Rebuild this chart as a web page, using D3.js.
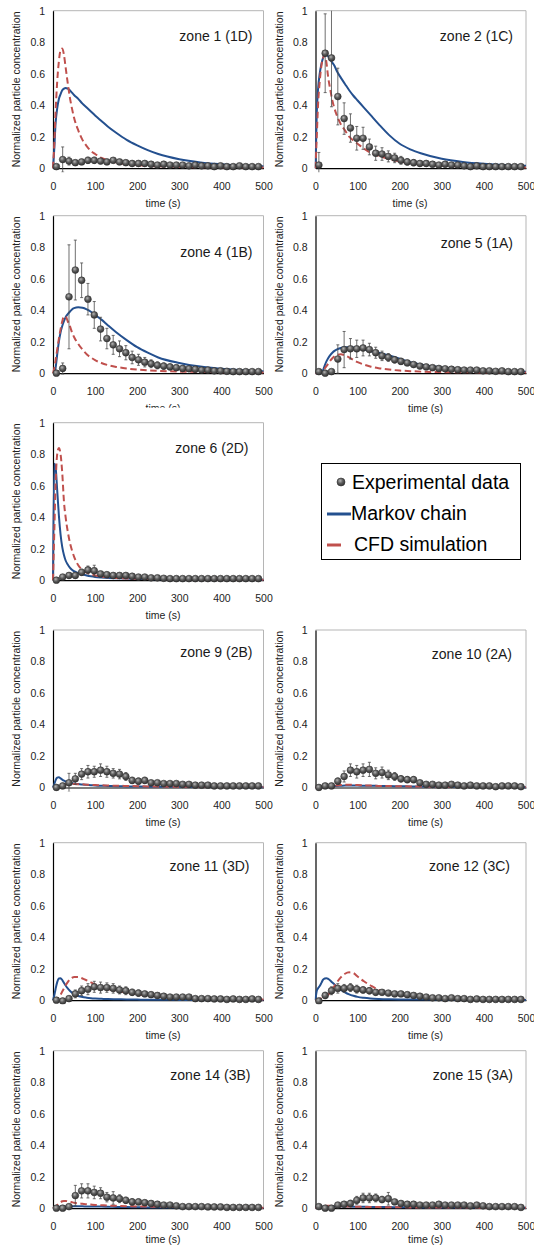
<!DOCTYPE html>
<html>
<head>
<meta charset="utf-8">
<script src="https://cdn.jsdelivr.net/npm/d3@7"></script>
<style>
  html, body { margin: 0; padding: 0; background: #fff; }
  svg { display: block; font-family: "Liberation Sans", Arial, sans-serif; }
</style>
</head>
<body>
<div id="viz"></div>
<script>
// ---- data ----
const zoneNames = ["zone 1 (1D)", "zone 2 (1C)", "zone 4 (1B)", "zone 5 (1A)", "zone 6 (2D)",
  "zone 9 (2B)", "zone 10 (2A)", "zone 11 (3D)", "zone 12 (3C)", "zone 14 (3B)", "zone 15 (3A)"];
const xTicks = [0, 100, 200, 300, 400, 500];
const yTicks = [0, 0.2, 0.4, 0.6, 0.8, 1];
const legendLabels = ["Experimental data", "Markov chain", "CFD simulation"];
const xTitle = "time (s)";
const yTitle = "Normalized particle concentration";

const expTime = [8, 23, 38, 53, 68, 83, 98, 113, 128, 143, 158, 173, 188, 203, 218, 233, 248,
  263, 278, 293, 308, 323, 338, 353, 368, 383, 398, 413, 428, 443, 458, 473, 488];

const expValues = [
  [0.01, 0.055, 0.045, 0.035, 0.04, 0.05, 0.05, 0.045, 0.04, 0.05, 0.04, 0.035, 0.03, 0.03, 0.03, 0.025, 0.02, 0.025, 0.02, 0.02, 0.02, 0.015, 0.02, 0.015, 0.015, 0.01, 0.015, 0.01, 0.01, 0.015, 0.01, 0.01, 0.01],
  [0.02, 0.73, 0.70, 0.455, 0.315, 0.255, 0.19, 0.19, 0.135, 0.095, 0.09, 0.075, 0.065, 0.05, 0.04, 0.035, 0.03, 0.03, 0.025, 0.02, 0.025, 0.02, 0.02, 0.015, 0.01, 0.015, 0.01, 0.01, 0.01, 0.01, 0.01, 0.01, 0.01],
  [0.0, 0.03, 0.485, 0.655, 0.59, 0.47, 0.37, 0.28, 0.22, 0.18, 0.155, 0.13, 0.1, 0.085, 0.07, 0.06, 0.05, 0.045, 0.04, 0.035, 0.03, 0.028, 0.025, 0.02, 0.02, 0.015, 0.015, 0.012, 0.01, 0.01, 0.01, 0.01, 0.01],
  [0.01, 0.0, 0.01, 0.09, 0.15, 0.155, 0.155, 0.16, 0.15, 0.13, 0.11, 0.1, 0.085, 0.075, 0.065, 0.055, 0.045, 0.04, 0.035, 0.03, 0.028, 0.025, 0.022, 0.02, 0.02, 0.02, 0.015, 0.015, 0.012, 0.015, 0.01, 0.01, 0.01],
  [0.0, 0.02, 0.03, 0.03, 0.05, 0.065, 0.06, 0.04, 0.035, 0.03, 0.03, 0.03, 0.025, 0.02, 0.02, 0.015, 0.015, 0.012, 0.01, 0.01, 0.01, 0.01, 0.01, 0.01, 0.01, 0.01, 0.01, 0.01, 0.01, 0.01, 0.01, 0.01, 0.01],
  [0.0, 0.01, 0.03, 0.055, 0.085, 0.1, 0.1, 0.11, 0.1, 0.09, 0.085, 0.07, 0.045, 0.04, 0.045, 0.03, 0.03, 0.025, 0.025, 0.025, 0.02, 0.02, 0.015, 0.015, 0.015, 0.01, 0.01, 0.01, 0.01, 0.01, 0.01, 0.01, 0.01],
  [0.0, 0.01, 0.01, 0.04, 0.07, 0.11, 0.1, 0.11, 0.115, 0.09, 0.095, 0.08, 0.07, 0.055, 0.05, 0.05, 0.03, 0.02, 0.02, 0.015, 0.015, 0.02, 0.015, 0.01, 0.015, 0.01, 0.01, 0.01, 0.005, 0.01, 0.01, 0.01, 0.005],
  [0.0, -0.005, 0.01, 0.04, 0.06, 0.07, 0.085, 0.08, 0.08, 0.075, 0.065, 0.06, 0.05, 0.045, 0.04, 0.035, 0.03, 0.025, 0.02, 0.02, 0.02, 0.02, 0.01, 0.01, 0.01, 0.008, 0.008, 0.005, 0.008, 0.005, 0.005, 0.008, 0.005],
  [-0.005, 0.03, 0.06, 0.075, 0.075, 0.08, 0.07, 0.065, 0.06, 0.05, 0.05, 0.045, 0.04, 0.04, 0.035, 0.03, 0.025, 0.02, 0.015, 0.015, 0.01, 0.015, 0.01, 0.01, 0.005, 0.008, 0.005, 0.005, 0.005, 0.005, 0.005, 0.005, 0.005],
  [0.0, 0.0, 0.01, 0.08, 0.11, 0.11, 0.1, 0.095, 0.07, 0.065, 0.06, 0.05, 0.04, 0.04, 0.035, 0.03, 0.025, 0.02, 0.02, 0.015, 0.01, 0.01, 0.01, 0.01, 0.008, 0.008, 0.008, 0.005, 0.005, 0.005, 0.005, 0.005, 0.005],
  [0.01, 0.0, 0.0, 0.02, 0.025, 0.03, 0.05, 0.065, 0.065, 0.065, 0.055, 0.06, 0.04, 0.03, 0.025, 0.025, 0.02, 0.02, 0.02, 0.025, 0.02, 0.02, 0.02, 0.02, 0.015, 0.02, 0.015, 0.01, 0.01, 0.01, 0.01, 0.01, 0.005]
];

const expErrors = [
  [0.01, 0.08, 0.025, 0.015, 0.015, 0.02, 0.02, 0.015, 0.015, 0.015, 0.015, 0.01, 0.01, 0.01, 0.01, 0.01, 0.01, 0.01, 0.01, 0.008, 0.008, 0.008, 0.008, 0.008, 0.008, 0.008, 0.008, 0.008, 0.008, 0.008, 0.008, 0.008, 0.008],
  [0.08, 0.25, 0.31, 0.18, 0.1, 0.09, 0.075, 0.07, 0.05, 0.045, 0.04, 0.035, 0.03, 0.025, 0.02, 0.02, 0.015, 0.015, 0.012, 0.012, 0.012, 0.01, 0.01, 0.01, 0.01, 0.01, 0.008, 0.008, 0.008, 0.008, 0.008, 0.008, 0.008],
  [0.005, 0.035, 0.33, 0.19, 0.11, 0.1, 0.085, 0.075, 0.065, 0.06, 0.05, 0.045, 0.04, 0.035, 0.03, 0.025, 0.022, 0.02, 0.018, 0.015, 0.015, 0.012, 0.012, 0.01, 0.01, 0.01, 0.008, 0.008, 0.008, 0.008, 0.008, 0.008, 0.008],
  [0.01, 0.01, 0.01, 0.09, 0.115, 0.065, 0.055, 0.05, 0.04, 0.035, 0.03, 0.025, 0.02, 0.02, 0.015, 0.015, 0.012, 0.01, 0.01, 0.01, 0.008, 0.008, 0.008, 0.008, 0.008, 0.008, 0.008, 0.008, 0.008, 0.008, 0.008, 0.008, 0.008],
  [0.005, 0.015, 0.015, 0.015, 0.02, 0.025, 0.035, 0.015, 0.01, 0.01, 0.01, 0.01, 0.01, 0.008, 0.008, 0.008, 0.008, 0.008, 0.008, 0.008, 0.008, 0.008, 0.008, 0.008, 0.008, 0.008, 0.008, 0.008, 0.008, 0.008, 0.008, 0.008, 0.008],
  [0.005, 0.01, 0.06, 0.035, 0.035, 0.04, 0.035, 0.04, 0.035, 0.03, 0.03, 0.025, 0.02, 0.02, 0.02, 0.015, 0.015, 0.012, 0.012, 0.012, 0.01, 0.01, 0.01, 0.01, 0.008, 0.008, 0.008, 0.008, 0.008, 0.008, 0.008, 0.008, 0.008],
  [0.005, 0.01, 0.01, 0.02, 0.035, 0.04, 0.04, 0.04, 0.045, 0.035, 0.035, 0.03, 0.025, 0.02, 0.02, 0.02, 0.015, 0.012, 0.01, 0.01, 0.01, 0.01, 0.008, 0.008, 0.008, 0.008, 0.008, 0.008, 0.008, 0.008, 0.008, 0.008, 0.008],
  [0.005, 0.008, 0.015, 0.025, 0.03, 0.035, 0.035, 0.035, 0.03, 0.03, 0.025, 0.025, 0.02, 0.02, 0.015, 0.015, 0.012, 0.012, 0.01, 0.01, 0.01, 0.01, 0.008, 0.008, 0.008, 0.008, 0.008, 0.008, 0.008, 0.008, 0.008, 0.008, 0.008],
  [0.005, 0.02, 0.025, 0.03, 0.025, 0.025, 0.025, 0.02, 0.02, 0.018, 0.015, 0.015, 0.015, 0.012, 0.012, 0.01, 0.01, 0.01, 0.01, 0.01, 0.008, 0.008, 0.008, 0.008, 0.008, 0.008, 0.008, 0.008, 0.008, 0.008, 0.008, 0.008, 0.008],
  [0.005, 0.005, 0.01, 0.065, 0.045, 0.045, 0.04, 0.035, 0.03, 0.04, 0.025, 0.02, 0.02, 0.018, 0.015, 0.015, 0.012, 0.01, 0.01, 0.01, 0.008, 0.008, 0.008, 0.008, 0.008, 0.008, 0.008, 0.008, 0.008, 0.008, 0.008, 0.008, 0.008],
  [0.01, 0.005, 0.005, 0.01, 0.015, 0.02, 0.025, 0.03, 0.03, 0.025, 0.02, 0.04, 0.015, 0.012, 0.01, 0.01, 0.008, 0.008, 0.008, 0.008, 0.008, 0.008, 0.008, 0.008, 0.008, 0.008, 0.008, 0.008, 0.008, 0.008, 0.008, 0.008, 0.008]
];

const curveTime = [0, 3, 6, 10, 14, 18, 22, 26, 30, 35, 40, 45, 50, 60, 70, 80, 90, 100,
  115, 130, 150, 175, 200, 225, 250, 300, 350, 400, 450, 500];

const markovValues = [
  [0, 0.12, 0.28, 0.38, 0.44, 0.47, 0.495, 0.505, 0.51, 0.505, 0.495, 0.48, 0.465, 0.44, 0.41, 0.385, 0.36, 0.335, 0.3, 0.265, 0.225, 0.18, 0.145, 0.115, 0.09, 0.057, 0.037, 0.025, 0.017, 0.012],
  [0, 0.35, 0.5, 0.6, 0.66, 0.7, 0.72, 0.72, 0.71, 0.69, 0.67, 0.65, 0.62, 0.575, 0.535, 0.495, 0.46, 0.43, 0.385, 0.34, 0.28, 0.21, 0.155, 0.12, 0.095, 0.06, 0.04, 0.028, 0.02, 0.015],
  [0, 0, 0.03, 0.12, 0.2, 0.26, 0.3, 0.33, 0.355, 0.375, 0.39, 0.405, 0.413, 0.418, 0.415, 0.405, 0.39, 0.37, 0.34, 0.305, 0.26, 0.21, 0.165, 0.13, 0.1, 0.065, 0.042, 0.028, 0.018, 0.012],
  [0, 0, 0, 0, 0, 0.02, 0.05, 0.075, 0.095, 0.115, 0.13, 0.142, 0.15, 0.16, 0.164, 0.165, 0.163, 0.16, 0.152, 0.14, 0.13, 0.112, 0.092, 0.07, 0.055, 0.037, 0.027, 0.02, 0.015, 0.01],
  [0, 0.74, 0.72, 0.57, 0.41, 0.29, 0.21, 0.16, 0.125, 0.1, 0.08, 0.066, 0.057, 0.045, 0.036, 0.03, 0.025, 0.021, 0.017, 0.014, 0.012, 0.01, 0.008, 0.007, 0.006, 0.005, 0.004, 0.004, 0.003, 0.003],
  [0, 0.02, 0.045, 0.062, 0.065, 0.058, 0.05, 0.043, 0.038, 0.033, 0.03, 0.027, 0.025, 0.022, 0.019, 0.017, 0.015, 0.013, 0.011, 0.01, 0.008, 0.007, 0.006, 0.005, 0.005, 0.004, 0.003, 0.003, 0.002, 0.002],
  [0, 0, 0, 0.001, 0.002, 0.003, 0.004, 0.005, 0.006, 0.007, 0.008, 0.009, 0.01, 0.011, 0.012, 0.012, 0.012, 0.012, 0.011, 0.011, 0.01, 0.009, 0.008, 0.007, 0.006, 0.005, 0.004, 0.003, 0.003, 0.002],
  [0, 0.03, 0.07, 0.115, 0.138, 0.14, 0.128, 0.11, 0.093, 0.075, 0.06, 0.048, 0.039, 0.027, 0.02, 0.016, 0.013, 0.011, 0.009, 0.007, 0.006, 0.005, 0.004, 0.003, 0.003, 0.002, 0.002, 0.001, 0.001, 0.001],
  [0, 0.06, 0.075, 0.09, 0.11, 0.13, 0.138, 0.14, 0.135, 0.125, 0.112, 0.1, 0.088, 0.067, 0.05, 0.037, 0.028, 0.021, 0.015, 0.011, 0.008, 0.006, 0.005, 0.004, 0.004, 0.003, 0.002, 0.002, 0.002, 0.001],
  [0, 0.002, 0.004, 0.006, 0.008, 0.009, 0.01, 0.011, 0.011, 0.012, 0.012, 0.012, 0.012, 0.012, 0.012, 0.011, 0.011, 0.01, 0.01, 0.009, 0.008, 0.007, 0.006, 0.005, 0.005, 0.004, 0.003, 0.003, 0.002, 0.002],
  [0, 0.002, 0.004, 0.006, 0.008, 0.009, 0.01, 0.01, 0.01, 0.01, 0.01, 0.01, 0.01, 0.01, 0.01, 0.01, 0.009, 0.009, 0.009, 0.008, 0.008, 0.007, 0.006, 0.006, 0.005, 0.005, 0.004, 0.004, 0.003, 0.003]
];

const cfdValues = [
  [0, 0.15, 0.35, 0.55, 0.68, 0.75, 0.76, 0.72, 0.64, 0.54, 0.45, 0.38, 0.32, 0.24, 0.18, 0.14, 0.11, 0.09, 0.065, 0.05, 0.036, 0.026, 0.02, 0.015, 0.012, 0.008, 0.006, 0.005, 0.004, 0.004],
  [0, 0.2, 0.4, 0.55, 0.65, 0.7, 0.72, 0.67, 0.58, 0.5, 0.43, 0.38, 0.34, 0.28, 0.24, 0.2, 0.175, 0.155, 0.125, 0.1, 0.078, 0.058, 0.043, 0.033, 0.026, 0.016, 0.011, 0.008, 0.006, 0.005],
  [0, 0.03, 0.08, 0.15, 0.22, 0.28, 0.33, 0.36, 0.36, 0.33, 0.3, 0.26, 0.23, 0.185, 0.15, 0.12, 0.1, 0.083, 0.065, 0.052, 0.04, 0.03, 0.023, 0.018, 0.015, 0.01, 0.008, 0.006, 0.005, 0.005],
  [0, 0, 0.002, 0.005, 0.01, 0.02, 0.03, 0.045, 0.06, 0.08, 0.095, 0.108, 0.116, 0.12, 0.113, 0.1, 0.085, 0.07, 0.055, 0.043, 0.032, 0.023, 0.017, 0.013, 0.01, 0.007, 0.006, 0.005, 0.005, 0.004],
  [0, 0.3, 0.6, 0.8, 0.84, 0.8, 0.68, 0.5, 0.4, 0.31, 0.24, 0.19, 0.15, 0.095, 0.065, 0.048, 0.037, 0.03, 0.023, 0.018, 0.014, 0.011, 0.009, 0.008, 0.007, 0.005, 0.004, 0.004, 0.003, 0.003],
  [0, 0.002, 0.004, 0.007, 0.01, 0.013, 0.016, 0.018, 0.02, 0.021, 0.022, 0.022, 0.022, 0.021, 0.02, 0.018, 0.017, 0.016, 0.014, 0.013, 0.011, 0.01, 0.008, 0.007, 0.006, 0.005, 0.004, 0.004, 0.003, 0.003],
  [0, 0, 0, 0, 0.001, 0.002, 0.003, 0.004, 0.005, 0.007, 0.009, 0.011, 0.013, 0.016, 0.018, 0.018, 0.017, 0.016, 0.014, 0.012, 0.01, 0.009, 0.008, 0.007, 0.006, 0.005, 0.004, 0.004, 0.003, 0.003],
  [0, 0.002, 0.005, 0.01, 0.02, 0.035, 0.055, 0.075, 0.095, 0.115, 0.132, 0.142, 0.148, 0.147, 0.138, 0.126, 0.113, 0.1, 0.085, 0.072, 0.06, 0.048, 0.038, 0.03, 0.024, 0.016, 0.011, 0.008, 0.005, 0.004],
  [0, 0.002, 0.005, 0.01, 0.013, 0.017, 0.022, 0.028, 0.035, 0.05, 0.07, 0.09, 0.11, 0.145, 0.168, 0.177, 0.172, 0.15, 0.12, 0.095, 0.065, 0.045, 0.033, 0.026, 0.021, 0.014, 0.01, 0.007, 0.005, 0.004],
  [0, 0.005, 0.01, 0.02, 0.03, 0.038, 0.044, 0.046, 0.046, 0.044, 0.041, 0.038, 0.035, 0.031, 0.028, 0.025, 0.023, 0.021, 0.019, 0.017, 0.015, 0.013, 0.011, 0.01, 0.009, 0.007, 0.005, 0.004, 0.004, 0.003],
  [0, 0.003, 0.006, 0.01, 0.013, 0.015, 0.016, 0.016, 0.016, 0.015, 0.014, 0.013, 0.012, 0.011, 0.01, 0.01, 0.009, 0.009, 0.008, 0.008, 0.007, 0.006, 0.006, 0.005, 0.005, 0.004, 0.004, 0.003, 0.003, 0.003]
];

// ---- layout ----
const width = 534;
const height = 1247;
const rowTop = [10.7, 215.7, 422.7, 630, 842.7, 1050.7];
const colLeft = [53, 315.5];
const plotW = 210.5;
const plotH = 157.5;
const slots = [[0, 0], [0, 1], [1, 0], [1, 1], [2, 0], [3, 0], [3, 1], [4, 0], [4, 1], [5, 0], [5, 1]];
const labelDy = [30, 30, 41, 32, 30, 27, 29, 28, 28, 29, 29];
const labelDx = [11, 13, 11, 13, 15, 11, 14, 14, 16, 13, 13];
const timeDx = [110, 94.5, 110, 110, 110, 110, 110, 110, 110, 110, 110];
const coverTop = [false, false, false, false, true, false, false, false, false, false, false];

const blue = '#24508f';
const red = '#c0504d';
const smallFont = 10.5;

const svg = d3.select('#viz')
  .append('svg')
    .attr('width', width)
    .attr('height', height);

const defs = svg.append('defs');
const ball = defs.append('radialGradient')
  .attr('id', 'ball')
  .attr('cx', '40%').attr('cy', '35%').attr('r', '65%');
ball.append('stop').attr('offset', '0%').attr('stop-color', '#b4b4b4');
ball.append('stop').attr('offset', '50%').attr('stop-color', '#5e5e5e');
ball.append('stop').attr('offset', '100%').attr('stop-color', '#333');

const xScale = d3.scaleLinear().domain([0, 500]).range([0, plotW]);
const yScale = d3.scaleLinear().domain([0, 1]).range([plotH, 0]);

const line = d3.line()
  .x(d => xScale(d[0]))
  .y(d => yScale(d[1]))
  .curve(d3.curveMonotoneX);

zoneNames.forEach((name, i) => {
  const [r, c] = slots[i];
  const g = svg.append('g')
    .attr('transform', `translate(${colLeft[c]}, ${rowTop[r]})`);

  // this panel sits over the overflow of the one above it
  if (coverTop[i]) {
    g.append('rect')
      .attr('x', -colLeft[c]).attr('y', -15)
      .attr('width', plotW + colLeft[c] + 1).attr('height', plotH + 60)
      .attr('fill', '#fff');
  }

  defs.append('clipPath').attr('id', 'clip' + i)
    .append('rect')
      .attr('x', -1).attr('y', 0)
      .attr('width', plotW + 3).attr('height', plotH + 4);

  // light frame on top and right
  g.append('path')
    .attr('d', `M0,0H${plotW}V${plotH}`)
    .attr('fill', 'none')
    .attr('stroke', '#b5b5b5')
    .attr('stroke-width', 1);

  const yAxis = g.append('g')
    .call(d3.axisLeft(yScale).tickValues(yTicks).tickSize(0).tickSizeOuter(0).tickPadding(8).tickFormat(d => d));
  const xAxis = g.append('g')
    .attr('transform', `translate(0, ${plotH})`)
    .call(d3.axisBottom(xScale).tickValues(xTicks).tickSize(0).tickSizeOuter(0).tickPadding(14));
  [yAxis, xAxis].forEach(a => {
    a.attr('font-family', null).attr('font-size', smallFont);
    a.select('.domain').attr('stroke', '#000').attr('stroke-width', 1.2);
    a.selectAll('text').attr('fill', '#222');
  });

  // keep the bottom row's title inside the page
  const titleY = Math.min(plotH + 38.5, height - 3.5 - rowTop[r]);
  g.append('text')
    .attr('x', timeDx[i]).attr('y', titleY)
    .attr('text-anchor', 'middle')
    .attr('font-size', smallFont)
    .attr('fill', '#222')
    .text(xTitle);

  g.append('text')
    .attr('transform', `translate(-36.5, ${plotH / 2}) rotate(-90)`)
    .attr('text-anchor', 'middle')
    .attr('dy', '0.35em')
    .attr('font-size', smallFont)
    .attr('fill', '#222')
    .text(yTitle);

  g.append('text')
    .attr('x', plotW - labelDx[i]).attr('y', labelDy[i])
    .attr('text-anchor', 'end')
    .attr('font-size', 14)
    .attr('font-weight', 'normal')
    .attr('fill', '#1a1a1a')
    .text(name);

  const plot = g.append('g').attr('clip-path', `url(#clip${i})`);

  plot.append('path')
    .datum(d3.zip(curveTime, markovValues[i]))
    .attr('d', line)
    .attr('fill', 'none')
    .attr('stroke', blue)
    .attr('stroke-width', 2);

  plot.append('path')
    .datum(d3.zip(curveTime, cfdValues[i]))
    .attr('d', line)
    .attr('fill', 'none')
    .attr('stroke', red)
    .attr('stroke-width', 2)
    .attr('stroke-dasharray', '6.5,3.5');

  const pts = expTime.map((t, k) => ({ t: t, v: expValues[i][k], e: expErrors[i][k] }));

  const bars = plot.append('g')
    .attr('stroke', '#4a4a4a')
    .attr('stroke-width', 0.8)
    .selectAll('g')
    .data(pts)
    .join('g');
  bars.append('line')
    .attr('x1', d => xScale(d.t)).attr('x2', d => xScale(d.t))
    .attr('y1', d => yScale(d.v - d.e)).attr('y2', d => yScale(d.v + d.e));
  bars.append('line')
    .attr('x1', d => xScale(d.t) - 1.5).attr('x2', d => xScale(d.t) + 1.5)
    .attr('y1', d => yScale(d.v + d.e)).attr('y2', d => yScale(d.v + d.e));
  bars.append('line')
    .attr('x1', d => xScale(d.t) - 1.5).attr('x2', d => xScale(d.t) + 1.5)
    .attr('y1', d => yScale(d.v - d.e)).attr('y2', d => yScale(d.v - d.e));

  plot.append('g')
    .selectAll('circle')
    .data(pts)
    .join('circle')
      .attr('cx', d => xScale(d.t))
      .attr('cy', d => yScale(d.v))
      .attr('r', 3.4)
      .attr('fill', 'url(#ball)')
      .attr('stroke', '#333')
      .attr('stroke-width', 0.6);
});

// legend in the empty slot next to zone 6
const legend = svg.append('g').attr('font-size', 19.5).attr('fill', '#000');
legend.append('rect')
  .attr('x', 321.5).attr('y', 463.5)
  .attr('width', 199).attr('height', 96)
  .attr('fill', '#fff')
  .attr('stroke', '#000')
  .attr('stroke-width', 1);
legend.append('circle')
  .attr('cx', 341).attr('cy', 482)
  .attr('r', 4)
  .attr('fill', 'url(#ball)')
  .attr('stroke', '#333')
  .attr('stroke-width', 0.6);
legend.append('line')
  .attr('x1', 327).attr('x2', 351).attr('y1', 514).attr('y2', 514)
  .attr('stroke', blue).attr('stroke-width', 3);
legend.append('line')
  .attr('x1', 327).attr('x2', 341).attr('y1', 545).attr('y2', 545)
  .attr('stroke', red).attr('stroke-width', 3);
legend.selectAll('text')
  .data(legendLabels)
  .join('text')
    .attr('x', (d, k) => [352, 351, 354][k])
    .attr('y', (d, k) => [489, 520, 551][k])
    .text(d => d);
</script>
</body>
</html>
